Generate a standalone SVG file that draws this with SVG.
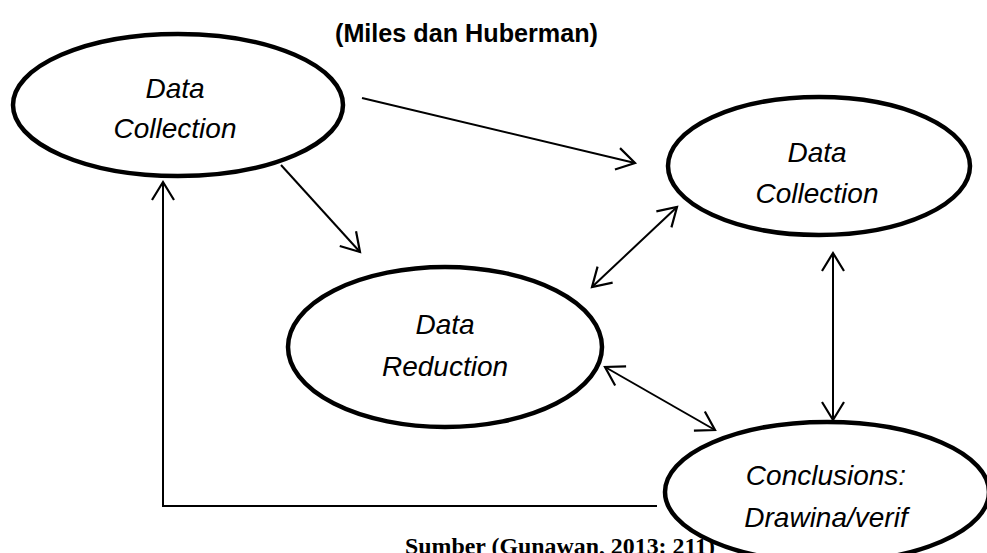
<svg xmlns="http://www.w3.org/2000/svg" width="987" height="553" viewBox="0 0 987 553">
  <style>
    .node ellipse { fill: #ffffff; stroke: #000000; stroke-width: 4.5; }
    .lbl { font-family: "Liberation Sans", Arial, sans-serif; font-style: italic; font-size: 28px; fill: #000000; text-anchor: middle; }
    .title { font-family: "Liberation Sans", Arial, sans-serif; font-weight: bold; font-size: 26px; fill: #000000; }
    .src { font-family: "Liberation Serif", "Times New Roman", serif; font-weight: bold; font-size: 24px; fill: #000000; }
    .conn { fill: none; stroke: #000000; stroke-width: 2; }
  </style>
  <defs>
    <marker id="arr" markerUnits="userSpaceOnUse" viewBox="-22 -14 26 28" markerWidth="26" markerHeight="28" refX="0" refY="0" orient="auto-start-reverse">
      <path d="M-18,-11 L0,0 L-18,11" fill="none" stroke="#000000" stroke-width="2.2" stroke-linejoin="miter"/>
    </marker>
  </defs>
  <rect x="0" y="0" width="987" height="553" fill="#ffffff"/>

  <text class="title" x="335" y="42" textLength="263" lengthAdjust="spacingAndGlyphs">(Miles dan Huberman)</text>

  <text class="src" x="405" y="554" textLength="310" lengthAdjust="spacingAndGlyphs">Sumber (Gunawan, 2013: 211)</text>

  <g id="connectors">
    <line class="conn" x1="362" y1="98" x2="635" y2="163" marker-end="url(#arr)"/>
    <line class="conn" x1="281" y1="165" x2="360" y2="252" marker-end="url(#arr)"/>
    <line class="conn" x1="677" y1="207" x2="592" y2="287" marker-start="url(#arr)" marker-end="url(#arr)"/>
    <line class="conn" x1="605" y1="367" x2="715" y2="430" marker-start="url(#arr)" marker-end="url(#arr)"/>
    <line class="conn" x1="833" y1="253" x2="833" y2="420" marker-start="url(#arr)" marker-end="url(#arr)"/>
    <polyline class="conn" points="657,506 163,506 163,182" marker-end="url(#arr)"/>
  </g>

  <g id="node-collection-1" class="node">
    <ellipse cx="178" cy="105" rx="165" ry="71"/>
    <text class="lbl" x="175" y="98">Data</text>
    <text class="lbl" x="175" y="138">Collection</text>
  </g>

  <g id="node-collection-2" class="node">
    <ellipse cx="819" cy="166" rx="151" ry="69"/>
    <text class="lbl" x="817" y="162">Data</text>
    <text class="lbl" x="817" y="203">Collection</text>
  </g>

  <g id="node-reduction" class="node">
    <ellipse cx="445" cy="347" rx="157" ry="80"/>
    <text class="lbl" x="445" y="334">Data</text>
    <text class="lbl" x="445" y="376">Reduction</text>
  </g>

  <g id="node-conclusions" class="node">
    <ellipse cx="827" cy="492" rx="162" ry="70"/>
    <text class="lbl" x="826" y="485">Conclusions:</text>
    <text class="lbl" x="826" y="527">Drawina/verif</text>
  </g>
</svg>
